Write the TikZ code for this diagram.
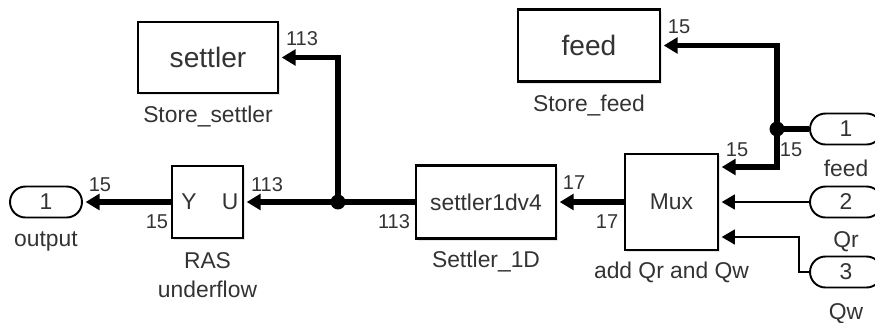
\documentclass[tikz,border=0pt]{standalone}
\usepackage{fontspec}
\setmainfont{Liberation Sans}
\usetikzlibrary{arrows.meta,shapes.misc,shadows}
\newcommand\numfont{\fontsize{11.4}{13}\selectfont}
\newcommand\labfont{\fontsize{13}{15}\selectfont}
\newcommand\bigfont{\fontsize{16}{18}\selectfont}

\begin{document}
\begin{tikzpicture}[x=0.02cm,y=-0.02cm,
  block/.style={draw,line width=1.2pt,fill=white,inner sep=0pt,text=black!80,font=\labfont,
    drop shadow={shadow xshift=1.2pt,shadow yshift=-1.2pt,opacity=0.2}},
  port/.style={draw,line width=1.1pt,rounded rectangle,minimum width=1.44cm,
    minimum height=0.62cm,inner sep=0pt,text=black!80,font=\labfont},
  lab/.style={anchor=base,inner sep=0pt,text=black!80,font=\labfont},
  num/.style={inner sep=0pt,text=black!80,font=\numfont},
  busline/.style={line width=3.2pt},
  bus/.style={busline,-{Triangle[length=8pt,width=9pt,sep=1.5pt]}},
  sig/.style={line width=1pt,-{Triangle[length=7.5pt,width=8.5pt,sep=1.5pt]}},
  dot/.style={circle,fill,inner sep=0pt,minimum size=8.5pt}]
\useasboundingbox (0,0) rectangle (875,322);

\node[port] (out1) at (46,202) {1};
\node[block,minimum width=1.42cm,minimum height=1.44cm] (ras) at (207.5,202) {};
\node[inner sep=0pt,text=black!80,font=\labfont] (rasy) at (189,202) {Y};
\node[inner sep=0pt,text=black!80,font=\labfont] (rasu) at (230,202) {U};
\node[block,minimum width=2.8cm,minimum height=1.42cm,font=\bigfont] (storeset) at (208,57.5) {settler};
\node[block,minimum width=2.8cm,minimum height=1.46cm] (settler1d) at (486,202) {settler1dv4};
\node[block,minimum width=1.86cm,minimum height=1.92cm] (mux) at (671.5,202) {Mux};
\node[block,minimum width=2.84cm,minimum height=1.44cm,font=\bigfont] (storefeed) at (589,45.5) {feed};
\node[port] (in1) at (846,129) {1};
\node[port] (in2) at (846,202) {2};
\node[port] (in3) at (846,272) {3};

\node[lab] (outlab) at (46,246) {output};
\node[lab] (raslab1) at (207.5,268) {RAS};
\node[lab] (raslab2) at (207.5,297) {underflow};
\node[lab] (storesetlab) at (208,122) {Store\_settler};
\node[lab] (settlerlab) at (486,267) {Settler\_1D};
\node[lab] (muxlab) at (671.5,278) {add Qr and Qw};
\node[lab] (storefeedlab) at (589,111) {Store\_feed};
\node[lab] (in1lab) at (846,176) {feed};
\node[lab] (in2lab) at (846,247) {Qr};
\node[lab] (in3lab) at (846,319) {Qw};

\node[num] (n1) at (100,185) {15};
\node[num] (n2) at (157,222) {15};
\node[num] (n3) at (267,185) {113};
\node[num] (n4) at (302,39) {113};
\node[num] (n5) at (394,222) {113};
\node[num] (n6) at (574,183) {17};
\node[num] (n7) at (607,222) {17};
\node[num] (n8) at (737,150) {15};
\node[num] (n9) at (791,150) {15};
\node[num] (n10) at (679,27) {15};

\coordinate (j1) at (338,202);
\coordinate (j2) at (777,129);
\coordinate (mux-in1) at (mux.east |- 0,167);
\coordinate (mux-in2) at (mux.east |- 0,202);
\coordinate (mux-in3) at (mux.east |- 0,237);

\draw[bus] (settler1d.west) -- (ras.east);
\draw[bus] (j1) |- (storeset.east);
\draw[bus] (ras.west) -- (out1.east);
\draw[bus] (mux.west) -- (settler1d.east);
\draw[busline] (in1.west) -- (j2);
\draw[bus] (j2) |- (storefeed.east);
\draw[bus] (j2) |- (mux-in1);
\draw[sig] (in2.west) -- (mux-in2);
\draw[sig] (in3.west) -- ++(-10,0) |- (mux-in3);
\node[dot] (d1) at (j1) {};
\node[dot] (d2) at (j2) {};
\end{tikzpicture}
\end{document}
